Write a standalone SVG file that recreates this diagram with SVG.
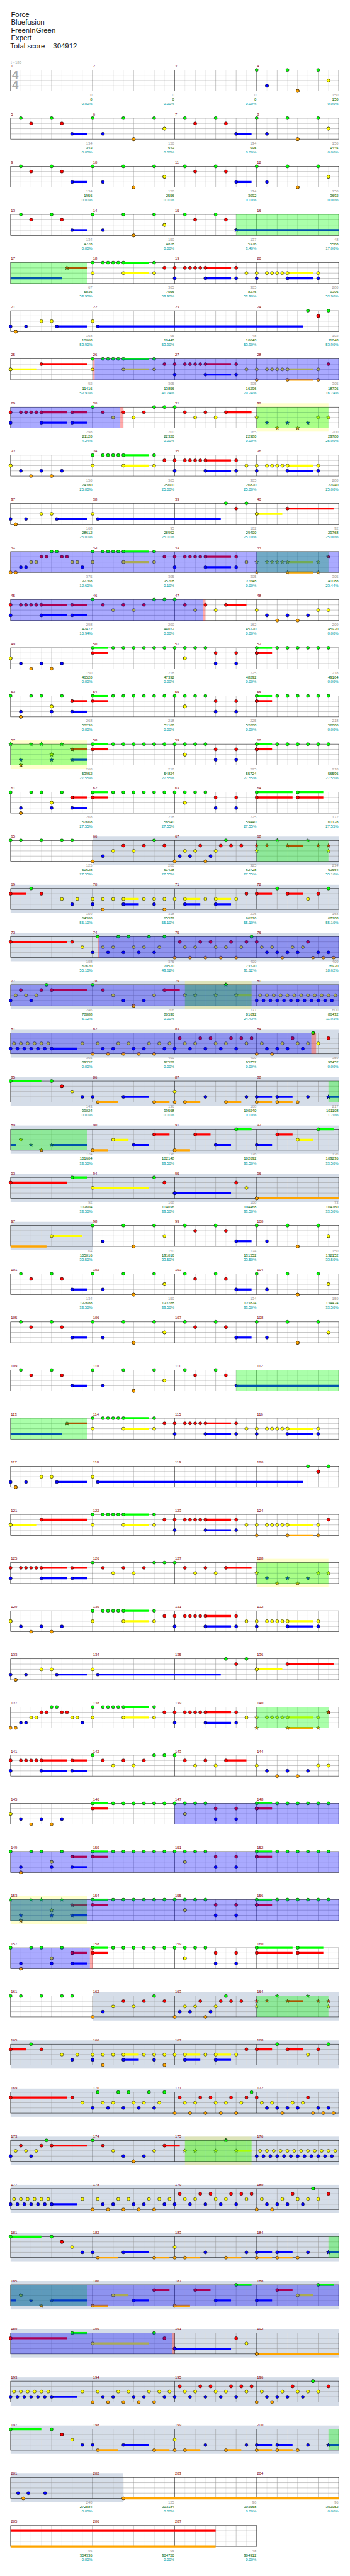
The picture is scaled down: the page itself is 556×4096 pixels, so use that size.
<svg xmlns="http://www.w3.org/2000/svg" width="556" height="4096" viewBox="0 0 556 4096">
<style>
text{font-family:"Liberation Sans",Arial,sans-serif;font-size:11px}
.h text{font-size:21px;fill:#111}
.mn{fill:#800000}
.a,.b,.c{text-anchor:end}
.a{fill:#999}.b{fill:#060}.c{fill:#099}
.ts{font-weight:bold;font-size:34px;fill:#aaa}
.tp{fill:#999;font-family:"DejaVu Sans",sans-serif;font-size:10px}
.nG{marker:url(#mG)}.nR{marker:url(#mR)}.nY{marker:url(#mY)}.nB{marker:url(#mB)}.nO{marker:url(#mO)}
.tG{marker:url(#kG)}.tR{marker:url(#kR)}.tY{marker:url(#kY)}.tB{marker:url(#kB)}.tO{marker:url(#kO)}
.sG,.sR,.sY,.sB,.sO{stroke-width:6;fill:none}
.sG{stroke:#0f0}.sR{stroke:#f00}.sY{stroke:#ff0}.sB{stroke:#00f}.sO{stroke:#ffa500}
.oG{fill:#0f0;opacity:.333}.oB{fill:#00f;opacity:.333}.pk{fill:#f00;opacity:.333}
.bg{fill:#d5dde8}.by{fill:#ff0;opacity:.2}
</style>
<defs>
<path id="st" d="M0-6L1.47-2.02 5.71-1.85 2.38.77 3.53 4.85 0 2.5-3.53 4.85-2.38.77-5.71-1.85-1.47-2.02Z" stroke="#000" stroke-width="0.8"/>
<marker id="mG" overflow="visible" markerUnits="userSpaceOnUse"><circle r="4.6" fill="#0f0" stroke="#000"/></marker>
<marker id="mR" overflow="visible" markerUnits="userSpaceOnUse"><circle r="4.6" fill="#f00" stroke="#000"/></marker>
<marker id="mY" overflow="visible" markerUnits="userSpaceOnUse"><circle r="4.6" fill="#ff0" stroke="#000"/></marker>
<marker id="mB" overflow="visible" markerUnits="userSpaceOnUse"><circle r="4.6" fill="#00f" stroke="#000"/></marker>
<marker id="mO" overflow="visible" markerUnits="userSpaceOnUse"><circle r="4.6" fill="#ffa500" stroke="#000"/></marker>
<marker id="kG" overflow="visible" markerUnits="userSpaceOnUse"><use href="#st" fill="#0f0"/></marker>
<marker id="kR" overflow="visible" markerUnits="userSpaceOnUse"><use href="#st" fill="#f00"/></marker>
<marker id="kY" overflow="visible" markerUnits="userSpaceOnUse"><use href="#st" fill="#ff0"/></marker>
<marker id="kB" overflow="visible" markerUnits="userSpaceOnUse"><use href="#st" fill="#00f"/></marker>
<marker id="kO" overflow="visible" markerUnits="userSpaceOnUse"><use href="#st" fill="#ffa500"/></marker>
<g id="gr" fill="none">
<path stroke="#ddd" d="M30 0V61.3M90 0V61.3M150 0V61.3M210 0V61.3M270 0V61.3M330 0V61.3M390 0V61.3M450 0V61.3M510 0V61.3M570 0V61.3M630 0V61.3M690 0V61.3M750 0V61.3M810 0V61.3M870 0V61.3M930 0V61.3"/>
<path stroke="#999" d="M60 0V61.3M120 0V61.3M180 0V61.3M300 0V61.3M360 0V61.3M420 0V61.3M540 0V61.3M600 0V61.3M660 0V61.3M780 0V61.3M840 0V61.3M900 0V61.3M0 15.3H960M0 30.7H960M0 46H960"/>
<path stroke="#000" d="M240 0V61.3M480 0V61.3M720 0V61.3"/>
<rect width="960" height="61.3" stroke="#000"/>
</g>
<g id="gr3" fill="none">
<path stroke="#ddd" d="M30 0V61.3M90 0V61.3M150 0V61.3M210 0V61.3M270 0V61.3M330 0V61.3M390 0V61.3M450 0V61.3M510 0V61.3M570 0V61.3M630 0V61.3M690 0V61.3"/>
<path stroke="#999" d="M60 0V61.3M120 0V61.3M180 0V61.3M300 0V61.3M360 0V61.3M420 0V61.3M540 0V61.3M600 0V61.3M660 0V61.3M0 15.3H720M0 30.7H720M0 46H720"/>
<path stroke="#000" d="M240 0V61.3M480 0V61.3"/>
<rect width="720" height="61.3" stroke="#000"/>
</g>
<g id="P"><path class="sB" d="M180 46H225"/><path class="nG" d="M30 0H120H240H330H420"/><path class="nR" d="M60 15.3H150"/><path class="nB" d="M180 46H270"/><path class="nO" d="M360 61.3H360"/><path class="nY" d="M450 30.7H450"/></g>
<g id="Q"><path class="sG" d="M330 0H405"/><path class="sY" d="M330 30.7H405"/><path class="sR" d="M570 15.3H645"/><path class="sB" d="M570 46H645"/><path class="nG" d="M240 0H270H285H300H315H330H420"/><path class="nY" d="M240 30.7H330H420"/><path class="nR" d="M450 15.3H480H510H525H540H555H570H660"/><path class="nB" d="M480 46H570H660"/></g>
<g id="Q2"><path class="sY" d="M810 30.7H885"/><path class="nY" d="M690 30.7H720H750H765H780H795H810H900"/></g>
<g id="Qb"><path class="sB" d="M810 46H885"/><path class="nB" d="M720 46H810H900"/></g>
<g id="S1"><path class="sG" d="M240 0H285"/><path class="sR" d="M240 15.3H285"/><path class="nG" d="M240 0H300H330H360H390H420H450H480H510H540H570"/><path class="nY" d="M510 30.7H510"/><path class="nR" d="M240 15.3H600H660"/><path class="nB" d="M600 46H660"/></g>
<g id="S2"><path class="sG" d="M720 0H765"/><path class="sR" d="M720 15.3H765"/><path class="nG" d="M720 0H780H810H840H870H900H930"/><path class="nR" d="M720 15.3H720"/></g>
<g id="U"><path class="sR" d="M180 15.3H225"/><path class="sB" d="M180 46H225"/><path class="nG" d="M0 0H60H90H150"/><path class="nB" d="M30 46H120H180"/><path class="nO" d="M30 61.3H30"/><path class="nY" d="M120 30.7H120"/><path class="nR" d="M180 15.3H180"/></g>
<g id="US"><path class="sR" d="M180 15.3H225"/><path class="sB" d="M180 46H225"/><path class="tG" d="M0 0H60H90H150"/><path class="tB" d="M30 46H120H180"/><path class="tO" d="M30 61.3H30"/><path class="tY" d="M120 30.7H120"/><path class="tR" d="M180 15.3H180"/></g>
<g id="V"><path class="nY" d="M0 30.7H0"/><path class="nB" d="M30 46H90H150"/><path class="nO" d="M60 61.3H120"/></g>
<g id="W"><path class="sB" d="M135 46H225"/><path class="nB" d="M0 46H45H135H255"/><path class="nO" d="M15 61.3H15"/><path class="nY" d="M90 30.7H120H240"/></g>
<g id="X"><path class="sR" d="M90 15.3H165M180 15.3H225"/><path class="sB" d="M90 46H165M180 46H225"/><path class="nR" d="M0 15.3H30H45H60H75H90H180H270H330H390H510H570H630"/><path class="nB" d="M0 46H90H180"/><path class="nG" d="M240 0H420H450H480"/><path class="nY" d="M300 30.7H360H540H600"/></g>
</defs>
<rect width="556" height="4096" fill="#fff"/>
<g transform="scale(0.54297)">
<g id="header" class="h"><text x="32" y="49">Force</text><text x="32" y="72">Bluefusion</text><text x="32" y="95">FreenInGreen</text><text x="32" y="118">Expert</text><text x="30" y="141">Total score = 304912</text></g>

<g id="row1" transform="translate(31 205)"><use href="#gr"/><text class="ts" x="4" y="27.7">4</text><text class="ts" x="4" y="57">4</text><text class="tp" x="0" y="-19">♩=180</text>
<path class="nG" d="M720 0H810H900"/><path class="nB" d="M750 46H750"/><path class="nO" d="M840 61.3H840"/><path class="nY" d="M930 30.7H930"/>
<g class="mn" transform="translate(0 -8)"><text x="1">1</text><text x="241">2</text><text x="481">3</text><text x="721">4</text></g>
<g class="a" transform="translate(0 77)"><text x="239">0</text><text x="479">0</text><text x="719">0</text><text x="959">150</text></g>
<g class="b" transform="translate(0 90)"><text x="239">0</text><text x="479">0</text><text x="719">0</text><text x="959">150</text></g>
<g class="c" transform="translate(0 103)"><text x="239">0.00%</text><text x="479">0.00%</text><text x="719">0.00%</text><text x="959">0.00%</text></g></g>

<g id="row2" transform="translate(31 346)"><use href="#gr"/><use href="#P"/><use href="#P" x="480"/>
<g class="mn" transform="translate(0 -8)"><text x="1">5</text><text x="241">6</text><text x="481">7</text><text x="721">8</text></g>
<g class="a" transform="translate(0 77)"><text x="239">134</text><text x="479">150</text><text x="719">134</text><text x="959">150</text></g>
<g class="b" transform="translate(0 90)"><text x="239">343</text><text x="479">643</text><text x="719">995</text><text x="959">1445</text></g>
<g class="c" transform="translate(0 103)"><text x="239">0.00%</text><text x="479">0.00%</text><text x="719">0.00%</text><text x="959">0.00%</text></g></g>

<g id="row3" transform="translate(31 487)"><g id="k2"><use href="#gr"/><use href="#P"/><use href="#P" x="480"/></g>
<g class="mn" transform="translate(0 -8)"><text x="1">9</text><text x="241">10</text><text x="481">11</text><text x="721">12</text></g>
<g class="a" transform="translate(0 77)"><text x="239">134</text><text x="479">150</text><text x="719">134</text><text x="959">150</text></g>
<g class="b" transform="translate(0 90)"><text x="239">1956</text><text x="479">2556</text><text x="719">3092</text><text x="959">3692</text></g>
<g class="c" transform="translate(0 103)"><text x="239">0.00%</text><text x="479">0.00%</text><text x="719">0.00%</text><text x="959">0.00%</text></g></g>

<g id="row4" transform="translate(31 628)"><g id="k3"><use href="#gr"/><use href="#P"/><path class="sB" d="M660 46H960"/><path class="nG" d="M510 0H600"/><path class="nR" d="M540 15.3H630"/><path class="tB" d="M660 46H660"/><rect class="oG" x="660" width="300" height="61.3"/></g>
<g class="mn" transform="translate(0 -8)"><text x="1">13</text><text x="241">14</text><text x="481">15</text><text x="721">16</text></g>
<g class="a" transform="translate(0 77)"><text x="239">134</text><text x="479">150</text><text x="719">137</text><text x="959">48</text></g>
<g class="b" transform="translate(0 90)"><text x="239">4228</text><text x="479">4828</text><text x="719">5376</text><text x="959">5568</text></g>
<g class="c" transform="translate(0 103)"><text x="239">0.00%</text><text x="479">0.00%</text><text x="719">3.40%</text><text x="959">17.00%</text></g></g>

<g id="row5" transform="translate(31 769)"><g id="k4"><use href="#gr"/><path class="sB" d="M0 46H150"/><path class="sR" d="M165 15.3H225"/><use href="#Q"/><use href="#Q2"/><use href="#Qb"/><path class="tR" d="M165 15.3H165"/><rect class="oG" width="225" height="61.3"/></g>
<g class="mn" transform="translate(0 -8)"><text x="1">17</text><text x="241">18</text><text x="481">19</text><text x="721">20</text></g>
<g class="a" transform="translate(0 77)"><text x="239">67</text><text x="479">305</text><text x="719">305</text><text x="959">280</text></g>
<g class="b" transform="translate(0 90)"><text x="239">5836</text><text x="479">7056</text><text x="719">8276</text><text x="959">9396</text></g>
<g class="c" transform="translate(0 103)"><text x="239">53.90%</text><text x="479">53.90%</text><text x="719">53.90%</text><text x="959">53.90%</text></g></g>

<g id="row6" transform="translate(31 910)"><g id="k5"><use href="#gr"/><path class="sB" d="M255 46H855"/><use href="#W"/><path class="nG" d="M870 0H930"/><path class="nR" d="M900 15.3H900"/></g>
<g class="mn" transform="translate(0 -8)"><text x="1">21</text><text x="241">22</text><text x="481">23</text><text x="721">24</text></g>
<g class="a" transform="translate(0 77)"><text x="239">168</text><text x="479">95</text><text x="719">48</text><text x="959">102</text></g>
<g class="b" transform="translate(0 90)"><text x="239">10068</text><text x="479">10448</text><text x="719">10640</text><text x="959">11048</text></g>
<g class="c" transform="translate(0 103)"><text x="239">53.90%</text><text x="479">53.90%</text><text x="719">53.90%</text><text x="959">53.90%</text></g></g>

<g id="row7" transform="translate(31 1051)"><g id="k6"><use href="#gr"/><path class="sY" d="M0 30.7H75"/><path class="sR" d="M90 15.3H225"/><path class="sO" d="M810 61.3H885"/><use href="#Q"/><use href="#Q2"/><path class="nY" d="M0 30.7H0"/><path class="nR" d="M90 15.3H930"/><path class="nO" d="M720 61.3H810H900"/></g><rect class="pk" x="240" width="6" height="61.3"/><rect class="oB" x="246" width="714" height="61.3"/>
<g class="mn" transform="translate(0 -8)"><text x="1">25</text><text x="241">26</text><text x="481">27</text><text x="721">28</text></g>
<g class="a" transform="translate(0 77)"><text x="239">92</text><text x="479">305</text><text x="719">305</text><text x="959">305</text></g>
<g class="b" transform="translate(0 90)"><text x="239">11416</text><text x="479">13856</text><text x="719">16296</text><text x="959">18736</text></g>
<g class="c" transform="translate(0 103)"><text x="239">53.90%</text><text x="479">41.74%</text><text x="719">29.24%</text><text x="959">16.74%</text></g></g>

<g id="row8" transform="translate(31 1192)"><g id="k7"><rect class="by" x="720" y="-11" width="210" height="83"/><use href="#gr"/><path class="sR" d="M630 15.3H705"/><use href="#X"/><path class="tY" d="M720 30.7H900H930"/><path class="tB" d="M750 46H810H870"/><path class="tO" d="M780 61.3H840"/><rect class="oG" x="720" width="210" height="61.3"/></g><rect class="oB" width="321" height="61.3"/><rect class="pk" x="321" width="9" height="61.3"/>
<g class="mn" transform="translate(0 -8)"><text x="1">29</text><text x="241">30</text><text x="481">31</text><text x="721">32</text></g>
<g class="a" transform="translate(0 77)"><text x="239">298</text><text x="479">200</text><text x="719">165</text><text x="959">200</text></g>
<g class="b" transform="translate(0 90)"><text x="239">21120</text><text x="479">22320</text><text x="719">22980</text><text x="959">23780</text></g>
<g class="c" transform="translate(0 103)"><text x="239">4.24%</text><text x="479">0.00%</text><text x="719">0.00%</text><text x="959">25.00%</text></g></g>

<g id="row9" transform="translate(31 1333)"><g id="k8"><use href="#gr"/><use href="#V"/><use href="#Q"/><use href="#Q2"/><use href="#Qb"/></g>
<g class="mn" transform="translate(0 -8)"><text x="1">33</text><text x="241">34</text><text x="481">35</text><text x="721">36</text></g>
<g class="a" transform="translate(0 77)"><text x="239">150</text><text x="479">305</text><text x="719">305</text><text x="959">280</text></g>
<g class="b" transform="translate(0 90)"><text x="239">24380</text><text x="479">25600</text><text x="719">26820</text><text x="959">27940</text></g>
<g class="c" transform="translate(0 103)"><text x="239">25.00%</text><text x="479">25.00%</text><text x="719">25.00%</text><text x="959">25.00%</text></g></g>

<g id="row10" transform="translate(31 1474)"><g id="k9"><use href="#gr"/><path class="sB" d="M255 46H615"/><path class="sY" d="M720 30.7H795"/><path class="sR" d="M810 15.3H945"/><use href="#W"/><path class="nG" d="M630 0H690"/><path class="nR" d="M660 15.3H810"/><path class="nY" d="M720 30.7H720"/></g>
<g class="mn" transform="translate(0 -8)"><text x="1">37</text><text x="241">38</text><text x="481">39</text><text x="721">40</text></g>
<g class="a" transform="translate(0 77)"><text x="239">168</text><text x="479">95</text><text x="719">102</text><text x="959">92</text></g>
<g class="b" transform="translate(0 90)"><text x="239">28612</text><text x="479">28992</text><text x="719">29400</text><text x="959">29768</text></g>
<g class="c" transform="translate(0 103)"><text x="239">25.00%</text><text x="479">25.00%</text><text x="719">25.00%</text><text x="959">25.00%</text></g></g>

<g id="row11" transform="translate(31 1615)"><g id="k10"><use href="#gr"/><path class="sY" d="M810 30.7H885"/><path class="sO" d="M810 61.3H885"/><use href="#Q"/><path class="nO" d="M0 61.3H15"/><path class="nB" d="M30 46H45H210"/><path class="nY" d="M60 30.7H75H180H195H690"/><path class="nR" d="M90 15.3H105H150H165"/><path class="nG" d="M120 0H135"/><path class="tY" d="M720 30.7H750H765H780H795H810H900"/><path class="tO" d="M720 61.3H810H900"/><path class="tR" d="M930 15.3H930"/><rect class="oG" x="720" width="210" height="61.3"/></g><rect class="oB" width="960" height="61.3"/><rect class="pk" width="2" height="61.3"/>
<g class="mn" transform="translate(0 -8)"><text x="1">41</text><text x="241">42</text><text x="481">43</text><text x="721">44</text></g>
<g class="a" transform="translate(0 77)"><text x="239">375</text><text x="479">305</text><text x="719">305</text><text x="959">305</text></g>
<g class="b" transform="translate(0 90)"><text x="239">32768</text><text x="479">35208</text><text x="719">37648</text><text x="959">40088</text></g>
<g class="c" transform="translate(0 103)"><text x="239">12.60%</text><text x="479">0.10%</text><text x="719">0.00%</text><text x="959">23.44%</text></g></g>

<g id="row12" transform="translate(31 1756)"><g id="k11"><use href="#gr"/><path class="sR" d="M630 15.3H690"/><use href="#X"/><path class="nY" d="M720 30.7H900H930"/><path class="nB" d="M750 46H810H870"/><path class="nO" d="M780 61.3H840"/></g><rect class="oB" width="563" height="61.3"/><rect class="pk" x="563" width="7" height="61.3"/>
<g class="mn" transform="translate(0 -8)"><text x="1">45</text><text x="241">46</text><text x="481">47</text><text x="721">48</text></g>
<g class="a" transform="translate(0 77)"><text x="239">298</text><text x="479">200</text><text x="719">162</text><text x="959">200</text></g>
<g class="b" transform="translate(0 90)"><text x="239">42472</text><text x="479">44072</text><text x="719">45120</text><text x="959">45920</text></g>
<g class="c" transform="translate(0 103)"><text x="239">10.94%</text><text x="479">0.00%</text><text x="719">0.00%</text><text x="959">0.00%</text></g></g>

<g id="row13" transform="translate(31 1897)"><g id="k12"><use href="#gr"/><use href="#V"/><use href="#S1"/><use href="#S2"/></g>
<g class="mn" transform="translate(0 -8)"><text x="1">49</text><text x="241">50</text><text x="481">51</text><text x="721">52</text></g>
<g class="a" transform="translate(0 77)"><text x="239">150</text><text x="479">218</text><text x="719">225</text><text x="959">218</text></g>
<g class="b" transform="translate(0 90)"><text x="239">46520</text><text x="479">47392</text><text x="719">48292</text><text x="959">49164</text></g>
<g class="c" transform="translate(0 103)"><text x="239">0.00%</text><text x="479">0.00%</text><text x="719">0.00%</text><text x="959">0.00%</text></g></g>

<g id="row14" transform="translate(31 2038)"><g id="k13"><use href="#gr"/><use href="#U"/><use href="#S1"/><use href="#S2"/></g>
<g class="mn" transform="translate(0 -8)"><text x="1">53</text><text x="241">54</text><text x="481">55</text><text x="721">56</text></g>
<g class="a" transform="translate(0 77)"><text x="239">268</text><text x="479">218</text><text x="719">225</text><text x="959">218</text></g>
<g class="b" transform="translate(0 90)"><text x="239">50236</text><text x="479">51108</text><text x="719">52008</text><text x="959">52880</text></g>
<g class="c" transform="translate(0 103)"><text x="239">0.00%</text><text x="479">0.00%</text><text x="719">0.00%</text><text x="959">0.00%</text></g></g>

<g id="row15" transform="translate(31 2179)"><g id="k14"><rect class="by" y="-11" width="225" height="83"/><use href="#gr"/><use href="#US"/><use href="#S1"/><use href="#S2"/><rect class="oG" width="225" height="61.3"/></g>
<g class="mn" transform="translate(0 -8)"><text x="1">57</text><text x="241">58</text><text x="481">59</text><text x="721">60</text></g>
<g class="a" transform="translate(0 77)"><text x="239">268</text><text x="479">218</text><text x="719">225</text><text x="959">218</text></g>
<g class="b" transform="translate(0 90)"><text x="239">53952</text><text x="479">54824</text><text x="719">55724</text><text x="959">56596</text></g>
<g class="c" transform="translate(0 103)"><text x="239">27.55%</text><text x="479">27.55%</text><text x="719">27.55%</text><text x="959">27.55%</text></g></g>

<g id="row16" transform="translate(31 2320)"><g id="k15"><use href="#gr"/><use href="#U"/><use href="#S1"/><path class="sG" d="M720 0H825M840 0H915"/><path class="sR" d="M720 15.3H825M840 15.3H915"/><path class="nG" d="M720 0H840"/><path class="nR" d="M720 15.3H840"/></g>
<g class="mn" transform="translate(0 -8)"><text x="1">61</text><text x="241">62</text><text x="481">63</text><text x="721">64</text></g>
<g class="a" transform="translate(0 77)"><text x="239">268</text><text x="479">218</text><text x="719">225</text><text x="959">172</text></g>
<g class="b" transform="translate(0 90)"><text x="239">57668</text><text x="479">58540</text><text x="719">59440</text><text x="959">60128</text></g>
<g class="c" transform="translate(0 103)"><text x="239">27.55%</text><text x="479">27.55%</text><text x="719">27.55%</text><text x="959">27.55%</text></g></g>

<g id="row17" transform="translate(31 2461)"><g id="k16"><rect class="bg" x="240" y="-11" width="720" height="83"/><use href="#gr"/><path class="sR" d="M810 15.3H855"/><path class="nG" d="M0 0H30H90H150H180H420H630"/><path class="nO" d="M240 61.3H480H570"/><path class="nB" d="M270 46H495H525H585"/><path class="nY" d="M300 30.7H360H510H540H600"/><path class="nR" d="M330 15.3H390H450H555H615H645H675"/><path class="tR" d="M720 15.3H750H810H900H930"/><path class="tY" d="M720 30.7H930"/><path class="tG" d="M780 0H870"/><rect class="oG" x="720" width="210" height="61.3"/></g>
<g class="mn" transform="translate(0 -8)"><text x="1">65</text><text x="241">66</text><text x="481">67</text><text x="721">68</text></g>
<g class="a" transform="translate(0 77)"><text x="239">125</text><text x="479">200</text><text x="719">325</text><text x="959">234</text></g>
<g class="b" transform="translate(0 90)"><text x="239">60628</text><text x="479">61428</text><text x="719">62728</text><text x="959">63664</text></g>
<g class="c" transform="translate(0 103)"><text x="239">27.55%</text><text x="479">27.55%</text><text x="719">27.55%</text><text x="959">55.10%</text></g></g>

<g id="row18" transform="translate(31 2602)"><g id="k17"><rect class="bg" y="-11" width="960" height="83"/><use href="#gr"/><path class="sR" d="M0 15.3H45M720 15.3H765M810 15.3H855"/><path class="sY" d="M330 30.7H375M510 30.7H555M600 30.7H645"/><path class="sB" d="M330 46H375M510 46H555M600 46H645"/><path class="nR" d="M0 15.3H90H690H720H810H900"/><path class="nG" d="M60 0H780H930"/><path class="nY" d="M150 30.7H195H240H270H300H330H390H420H450H480H510H570H600H660H870"/><path class="nB" d="M180 46H240H330H420H510H600"/><path class="nO" d="M270 61.3H450"/></g>
<g class="mn" transform="translate(0 -8)"><text x="1">69</text><text x="241">70</text><text x="481">71</text><text x="721">72</text></g>
<g class="a" transform="translate(0 77)"><text x="239">159</text><text x="479">318</text><text x="719">236</text><text x="959">168</text></g>
<g class="b" transform="translate(0 90)"><text x="239">64300</text><text x="479">65572</text><text x="719">66516</text><text x="959">67188</text></g>
<g class="c" transform="translate(0 103)"><text x="239">55.10%</text><text x="479">55.10%</text><text x="719">55.10%</text><text x="959">55.10%</text></g></g>

<g id="row19" transform="translate(31 2743)"><g id="k18"><rect class="bg" y="-11" width="960" height="83"/><use href="#gr"/><path class="sR" d="M0 15.3H165"/><path class="nR" d="M0 15.3H180H495H555H585H645H690H720H870"/><path class="nY" d="M210 30.7H270H300H360H390H435H510H540H600H630H675H735H765H825H855"/><path class="nB" d="M240 46H285H330H375H420H750H780H810H840H900H930"/><path class="nG" d="M255 0H315H345H405H450H705"/><path class="nO" d="M480 61.3H525H570H615H660H795H885H915H945"/></g><rect class="pk" x="255" width="3" height="61.3"/><rect class="oB" x="258" width="702" height="61.3"/>
<g class="mn" transform="translate(0 -8)"><text x="1">73</text><text x="241">74</text><text x="481">75</text><text x="721">76</text></g>
<g class="a" transform="translate(0 77)"><text x="239">108</text><text x="479">375</text><text x="719">400</text><text x="959">400</text></g>
<g class="b" transform="translate(0 90)"><text x="239">67620</text><text x="479">70520</text><text x="719">73720</text><text x="959">76920</text></g>
<g class="c" transform="translate(0 103)"><text x="239">55.10%</text><text x="479">43.62%</text><text x="719">31.12%</text><text x="959">18.62%</text></g></g>

<g id="row20" transform="translate(31 2884)"><g id="k19"><rect class="bg" y="-11" width="960" height="83"/><rect class="by" x="510" y="-11" width="195" height="83"/><use href="#gr"/><path class="sR" d="M120 15.3H225M450 15.3H495"/><path class="sY" d="M660 30.7H705"/><path class="nB" d="M0 46H60H330H390H720H740H760H780H800H820H840H860H880H900H920H940"/><path class="nY" d="M15 30.7H45H75H300H420H730H750H770H790H810H830H850H870H890H910H930H950"/><path class="nR" d="M30 15.3H90H120H270H450"/><path class="nG" d="M105 0H240"/><path class="nO" d="M360 61.3H360"/><path class="tY" d="M510 30.7H540H600H660"/><path class="tG" d="M630 0H630"/><rect class="oG" x="510" width="195" height="61.3"/></g><rect class="oB" width="960" height="61.3"/>
<g class="mn" transform="translate(0 -8)"><text x="1">77</text><text x="241">78</text><text x="481">79</text><text x="721">80</text></g>
<g class="a" transform="translate(0 77)"><text x="239">246</text><text x="479">206</text><text x="719">137</text><text x="959">600</text></g>
<g class="b" transform="translate(0 90)"><text x="239">78888</text><text x="479">80536</text><text x="719">81632</text><text x="959">86432</text></g>
<g class="c" transform="translate(0 103)"><text x="239">6.12%</text><text x="479">0.00%</text><text x="719">24.43%</text><text x="959">11.93%</text></g></g>

<g id="row21" transform="translate(31 3025)"><g id="k20"><rect class="bg" y="-11" width="960" height="83"/><use href="#gr"/><path class="sB" d="M120 46H195"/><path class="nB" d="M0 46H20H40H60H80H100H120H270H300H360H390H450H480H525H570H615H660H750H780H810H855"/><path class="nY" d="M10 30.7H30H50H70H90H110H210H255H315H345H405H435H465H510H540H600H630H690H735H795H840H870H900"/><path class="nO" d="M240 61.3H285H330H375H420H720H765"/><path class="nR" d="M495 15.3H555H585H645H675H705H825H930"/><path class="nG" d="M885 0H885"/></g><rect class="oB" width="880" height="61.3"/><rect class="pk" x="880" width="14" height="61.3"/>
<g class="mn" transform="translate(0 -8)"><text x="1">81</text><text x="241">82</text><text x="481">83</text><text x="721">84</text></g>
<g class="a" transform="translate(0 77)"><text x="239">365</text><text x="479">400</text><text x="719">400</text><text x="959">350</text></g>
<g class="b" transform="translate(0 90)"><text x="239">89352</text><text x="479">92552</text><text x="719">95752</text><text x="959">98452</text></g>
<g class="c" transform="translate(0 103)"><text x="239">0.00%</text><text x="479">0.00%</text><text x="719">0.00%</text><text x="959">0.00%</text></g></g>

<g id="row22" transform="translate(31 3166)"><g id="k21"><rect class="bg" y="-11" width="960" height="83"/><use href="#gr"/><path class="sG" d="M0 0H90"/><path class="sO" d="M255 61.3H315M420 61.3H465M510 61.3H555M630 61.3H675M720 61.3H765M780 61.3H825"/><path class="sB" d="M330 46H405M720 46H765M780 46H825M930 46H960"/><path class="nG" d="M0 0H120"/><path class="nR" d="M150 15.3H150"/><path class="nY" d="M180 30.7H480"/><path class="nB" d="M210 46H240H330H570H690H720H780H870"/><path class="nO" d="M255 61.3H420H480H510H630H720H780H840"/><path class="tB" d="M930 46H930"/><rect class="oG" x="930" width="30" height="61.3"/></g>
<g class="mn" transform="translate(0 -8)"><text x="1">85</text><text x="241">86</text><text x="481">87</text><text x="721">88</text></g>
<g class="a" transform="translate(0 77)"><text x="239">143</text><text x="479">136</text><text x="719">168</text><text x="959">217</text></g>
<g class="b" transform="translate(0 90)"><text x="239">99024</text><text x="479">99568</text><text x="719">100240</text><text x="959">101108</text></g>
<g class="c" transform="translate(0 103)"><text x="239">0.00%</text><text x="479">0.00%</text><text x="719">0.00%</text><text x="959">1.70%</text></g></g>

<g id="row23" transform="translate(31 3307)"><g id="k22"><rect class="bg" y="-11" width="960" height="83"/><use href="#gr"/><path class="sB" d="M0 46H15M120 46H225M360 46H405M600 46H645M720 46H765"/><path class="sO" d="M240 61.3H285M480 61.3H525"/><path class="sY" d="M300 30.7H345M840 30.7H885"/><path class="sR" d="M420 15.3H465M540 15.3H585M780 15.3H825"/><path class="sG" d="M660 0H705M900 0H945"/><path class="tY" d="M30 30.7H30"/><path class="tB" d="M60 46H120"/><path class="tO" d="M90 61.3H90"/><path class="nO" d="M240 61.3H480"/><path class="nY" d="M300 30.7H840"/><path class="nB" d="M360 46H600H720"/><path class="nR" d="M420 15.3H540H780"/><path class="nG" d="M660 0H900"/><rect class="oG" width="225" height="61.3"/></g>
<g class="mn" transform="translate(0 -8)"><text x="1">89</text><text x="241">90</text><text x="481">91</text><text x="721">92</text></g>
<g class="a" transform="translate(0 77)"><text x="239">124</text><text x="479">136</text><text x="719">136</text><text x="959">136</text></g>
<g class="b" transform="translate(0 90)"><text x="239">101604</text><text x="479">102148</text><text x="719">102692</text><text x="959">103236</text></g>
<g class="c" transform="translate(0 103)"><text x="239">33.50%</text><text x="479">33.50%</text><text x="719">33.50%</text><text x="959">33.50%</text></g></g>

<g id="row24" transform="translate(31 3448)"><g id="k23"><rect class="bg" y="-11" width="960" height="83"/><use href="#gr"/><path class="sR" d="M0 15.3H165"/><path class="sG" d="M180 0H225"/><path class="sY" d="M240 30.7H405"/><path class="sB" d="M480 46H645"/><path class="sO" d="M720 61.3H960"/><path class="nR" d="M0 15.3H450H660"/><path class="nG" d="M180 0H420"/><path class="nY" d="M240 30.7H690"/><path class="nB" d="M480 46H480"/><path class="nO" d="M720 61.3H720"/></g>
<g class="mn" transform="translate(0 -8)"><text x="1">93</text><text x="241">94</text><text x="481">95</text><text x="721">96</text></g>
<g class="a" transform="translate(0 77)"><text x="239">92</text><text x="479">108</text><text x="719">108</text><text x="959">73</text></g>
<g class="b" transform="translate(0 90)"><text x="239">103604</text><text x="479">104036</text><text x="719">104468</text><text x="959">104760</text></g>
<g class="c" transform="translate(0 103)"><text x="239">33.50%</text><text x="479">33.50%</text><text x="719">33.50%</text><text x="959">33.50%</text></g></g>

<g id="row25" transform="translate(31 3589)"><g id="k24"><rect class="bg" y="-11" width="240" height="83"/><use href="#gr"/><path class="sO" d="M0 61.3H105"/><path class="sY" d="M120 30.7H210"/><path class="nY" d="M120 30.7H450"/><path class="nG" d="M240 0H330H420"/><path class="nB" d="M270 46H270"/><path class="nO" d="M360 61.3H360"/><use href="#P" x="480"/></g>
<g class="mn" transform="translate(0 -8)"><text x="1">97</text><text x="241">98</text><text x="481">99</text><text x="721">100</text></g>
<g class="a" transform="translate(0 77)"><text x="239">64</text><text x="479">150</text><text x="719">134</text><text x="959">150</text></g>
<g class="b" transform="translate(0 90)"><text x="239">105016</text><text x="479">131016</text><text x="719">131552</text><text x="959">132152</text></g>
<g class="c" transform="translate(0 103)"><text x="239">33.50%</text><text x="479">33.50%</text><text x="719">33.50%</text><text x="959">33.50%</text></g></g>

<g id="row26" transform="translate(31 3730)"><use href="#k2"/>
<g class="mn" transform="translate(0 -8)"><text x="1">101</text><text x="241">102</text><text x="481">103</text><text x="721">104</text></g>
<g class="a" transform="translate(0 77)"><text x="239">134</text><text x="479">150</text><text x="719">134</text><text x="959">150</text></g>
<g class="b" transform="translate(0 90)"><text x="239">132688</text><text x="479">133288</text><text x="719">133824</text><text x="959">134424</text></g>
<g class="c" transform="translate(0 103)"><text x="239">33.50%</text><text x="479">33.50%</text><text x="719">33.50%</text><text x="959">33.50%</text></g></g>

<g id="row27" transform="translate(31 3871)"><use href="#k2"/><g class="mn" transform="translate(0 -8)"><text x="1">105</text><text x="241">106</text><text x="481">107</text><text x="721">108</text></g></g>
<g id="row28" transform="translate(31 4012)"><use href="#k3"/><g class="mn" transform="translate(0 -8)"><text x="1">109</text><text x="241">110</text><text x="481">111</text><text x="721">112</text></g></g>
<g id="row29" transform="translate(31 4153)"><use href="#k4"/><g class="mn" transform="translate(0 -8)"><text x="1">113</text><text x="241">114</text><text x="481">115</text><text x="721">116</text></g></g>
<g id="row30" transform="translate(31 4294)"><use href="#k5"/><g class="mn" transform="translate(0 -8)"><text x="1">117</text><text x="241">118</text><text x="481">119</text><text x="721">120</text></g></g>
<g id="row31" transform="translate(31 4435)"><use href="#k6"/><g class="mn" transform="translate(0 -8)"><text x="1">121</text><text x="241">122</text><text x="481">123</text><text x="721">124</text></g></g>
<g id="row32" transform="translate(31 4576)"><use href="#k7"/><g class="mn" transform="translate(0 -8)"><text x="1">125</text><text x="241">126</text><text x="481">127</text><text x="721">128</text></g></g>
<g id="row33" transform="translate(31 4717)"><use href="#k8"/><g class="mn" transform="translate(0 -8)"><text x="1">129</text><text x="241">130</text><text x="481">131</text><text x="721">132</text></g></g>
<g id="row34" transform="translate(31 4858)"><use href="#k9"/><g class="mn" transform="translate(0 -8)"><text x="1">133</text><text x="241">134</text><text x="481">135</text><text x="721">136</text></g></g>
<g id="row35" transform="translate(31 4999)"><use href="#k10"/><g class="mn" transform="translate(0 -8)"><text x="1">137</text><text x="241">138</text><text x="481">139</text><text x="721">140</text></g></g>
<g id="row36" transform="translate(31 5140)"><use href="#k11"/><g class="mn" transform="translate(0 -8)"><text x="1">141</text><text x="241">142</text><text x="481">143</text><text x="721">144</text></g></g>
<g id="row37" transform="translate(31 5281)"><use href="#k12"/><rect class="oB" x="480" width="480" height="61.3"/><g class="mn" transform="translate(0 -8)"><text x="1">145</text><text x="241">146</text><text x="481">147</text><text x="721">148</text></g></g>
<g id="row38" transform="translate(31 5422)"><use href="#k13"/><rect class="oB" width="960" height="61.3"/><g class="mn" transform="translate(0 -8)"><text x="1">149</text><text x="241">150</text><text x="481">151</text><text x="721">152</text></g></g>
<g id="row39" transform="translate(31 5563)"><use href="#k14"/><rect class="oB" width="960" height="61.3"/><g class="mn" transform="translate(0 -8)"><text x="1">153</text><text x="241">154</text><text x="481">155</text><text x="721">156</text></g></g>
<g id="row40" transform="translate(31 5704)"><use href="#k15"/><rect class="oB" width="232" height="61.3"/><rect class="pk" x="232" width="8" height="61.3"/><g class="mn" transform="translate(0 -8)"><text x="1">157</text><text x="241">158</text><text x="481">159</text><text x="721">160</text></g></g>
<g id="row41" transform="translate(31 5845)"><use href="#k16"/><g class="mn" transform="translate(0 -8)"><text x="1">161</text><text x="241">162</text><text x="481">163</text><text x="721">164</text></g></g>
<g id="row42" transform="translate(31 5986)"><use href="#k17"/><g class="mn" transform="translate(0 -8)"><text x="1">165</text><text x="241">166</text><text x="481">167</text><text x="721">168</text></g></g>
<g id="row43" transform="translate(31 6127)"><use href="#k18"/><g class="mn" transform="translate(0 -8)"><text x="1">169</text><text x="241">170</text><text x="481">171</text><text x="721">172</text></g></g>
<g id="row44" transform="translate(31 6268)"><use href="#k19"/><g class="mn" transform="translate(0 -8)"><text x="1">173</text><text x="241">174</text><text x="481">175</text><text x="721">176</text></g></g>
<g id="row45" transform="translate(31 6409)"><use href="#k20"/><g class="mn" transform="translate(0 -8)"><text x="1">177</text><text x="241">178</text><text x="481">179</text><text x="721">180</text></g></g>
<g id="row46" transform="translate(31 6550)"><use href="#k21"/><g class="mn" transform="translate(0 -8)"><text x="1">181</text><text x="241">182</text><text x="481">183</text><text x="721">184</text></g></g>
<g id="row47" transform="translate(31 6691)"><use href="#k22"/><rect class="oB" width="960" height="61.3"/><g class="mn" transform="translate(0 -8)"><text x="1">185</text><text x="241">186</text><text x="481">187</text><text x="721">188</text></g></g>
<g id="row48" transform="translate(31 6832)"><use href="#k23"/><rect class="oB" width="472" height="61.3"/><rect class="pk" x="472" width="8" height="61.3"/><g class="mn" transform="translate(0 -8)"><text x="1">189</text><text x="241">190</text><text x="481">191</text><text x="721">192</text></g></g>
<g id="row49" transform="translate(31 6973)"><use href="#k20"/><g class="mn" transform="translate(0 -8)"><text x="1">193</text><text x="241">194</text><text x="481">195</text><text x="721">196</text></g></g>
<g id="row50" transform="translate(31 7114)"><use href="#k21"/><g class="mn" transform="translate(0 -8)"><text x="1">197</text><text x="241">198</text><text x="481">199</text><text x="721">200</text></g></g>

<g id="row51" transform="translate(31 7255)"><rect class="bg" y="-11" width="330" height="83"/><use href="#gr"/><path class="sO" d="M330 61.3H960"/><path class="nB" d="M22 46H52H101"/><path class="nO" d="M37 61.3H330"/>
<g class="mn" transform="translate(0 -8)"><text x="1">201</text><text x="241">202</text><text x="481">203</text><text x="721">204</text></g>
<g class="a" transform="translate(0 77)"><text x="239">240</text><text x="479">125</text><text x="719">96</text><text x="959">96</text></g>
<g class="b" transform="translate(0 90)"><text x="239">272884</text><text x="479">303184</text><text x="719">303568</text><text x="959">303952</text></g>
<g class="c" transform="translate(0 103)"><text x="239">0.00%</text><text x="479">0.00%</text><text x="719">0.00%</text><text x="959">0.00%</text></g></g>

<g id="row52" transform="translate(31 7396)"><use href="#gr3"/><path class="sR" d="M0 15.3H600"/><path class="sO" d="M0 61.3H600"/>
<g class="mn" transform="translate(0 -8)"><text x="1">205</text><text x="241">206</text><text x="481">207</text></g>
<g class="a" transform="translate(0 77)"><text x="239">96</text><text x="479">96</text><text x="719">48</text></g>
<g class="b" transform="translate(0 90)"><text x="239">304336</text><text x="479">304720</text><text x="719">304912</text></g>
<g class="c" transform="translate(0 103)"><text x="239">0.00%</text><text x="479">0.00%</text><text x="719">0.00%</text></g></g>
</g>
</svg>
